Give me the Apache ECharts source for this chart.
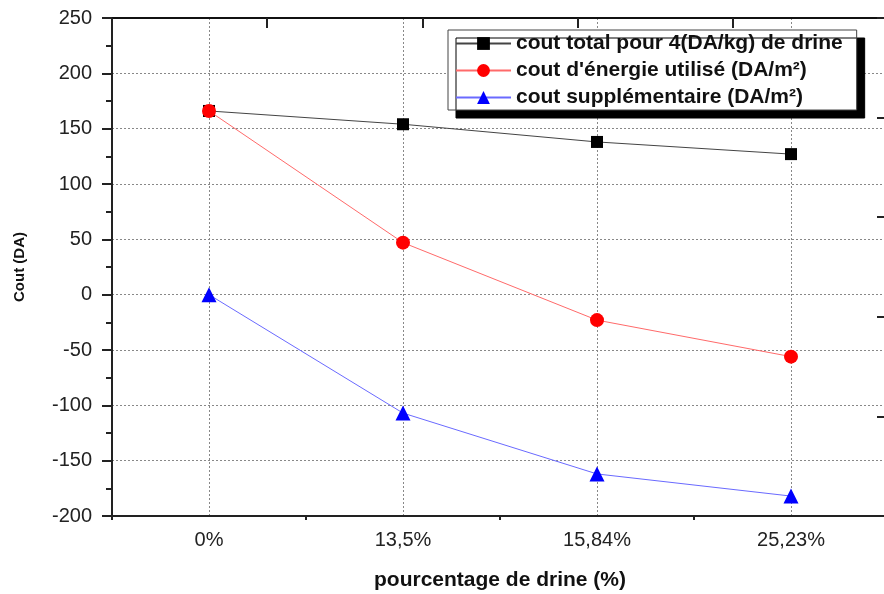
<!DOCTYPE html>
<html>
<head>
<meta charset="utf-8">
<script src="https://cdn.jsdelivr.net/npm/echarts@6/dist/echarts.min.js"></script>
<style>
html,body{margin:0;padding:0;background:#fff;}
#chart{width:884px;height:594px;}
</style>
</head>
<body>
<div id="chart"></div>
<script>
var categories = ['0%', '13,5%', '15,84%', '25,23%'];
var seriesNames = ['cout total pour 4(DA/kg) de drine', "cout d'énergie utilisé (DA/m²)", 'cout supplémentaire (DA/m²)'];
var coutTotal = [166, 154, 138, 127];
var coutEnergie = [166, 47, -23, -56];
var coutSupp = [0, -107, -162, -182];
var yMin = -200, yMax = 250, yStep = 50;

// helper axis: half-band positions (boundaries and centres)
var halfSteps = [''];
categories.forEach(function (c) { halfSteps.push(c); halfSteps.push(''); });
// top frame axis: five equal divisions (no labels)
var topSteps = ['', '', '', '', ''];

var FONT = '"Liberation Sans", Arial, sans-serif';
var chart = echarts.init(document.getElementById('chart'));
chart.setOption({
  animation: false,
  backgroundColor: '#fff',
  grid: {left: 112, top: 18, width: 776, height: 498, outerBoundsMode: 'none', containLabel: false},
  legend: {
    orient: 'vertical', left: 448, top: 30,
    itemWidth: 55, itemHeight: 16, itemGap: 6,
    padding: [3, 14, 2, 7],
    backgroundColor: '#fff', borderColor: '#444', borderWidth: 1,
    shadowColor: '#000', shadowOffsetX: 8, shadowOffsetY: 8, shadowBlur: 0,
    textStyle: {fontFamily: FONT, fontSize: 21, fontWeight: 'bold', color: '#111'},
    data: seriesNames
  },
  xAxis: [
    {
      type: 'category', data: categories, position: 'bottom', boundaryGap: true,
      name: 'pourcentage de drine (%)', nameLocation: 'middle', nameGap: 54,
      nameTextStyle: {fontFamily: FONT, fontSize: 21, fontWeight: 'bold', color: '#111'},
      axisLine: {onZero: false, lineStyle: {color: '#222', width: 2}},
      axisTick: {alignWithLabel: true, length: 10, lineStyle: {color: '#222', width: 2}},
      axisLabel: {fontFamily: FONT, fontSize: 20, color: '#222', margin: 14},
      splitLine: {show: false}
    },
    {
      type: 'category', data: halfSteps, position: 'bottom', boundaryGap: false,
      axisLine: {show: false, onZero: false},
      axisTick: {show: true, length: 4, interval: function (i) { return i % 2 === 0; }, lineStyle: {color: '#222', width: 2}},
      axisLabel: {show: false},
      splitLine: {show: true, interval: function (i) { return i % 2 === 1; }, lineStyle: {color: '#888', type: [2, 2], width: 1}}
    },
    {
      type: 'category', data: topSteps, position: 'top', boundaryGap: true,
      axisLine: {show: true, onZero: false, lineStyle: {color: '#111', width: 2}},
      axisTick: {show: true, inside: true, interval: 0, length: 10, lineStyle: {color: '#222', width: 2}},
      axisLabel: {show: false},
      splitLine: {show: false}
    }
  ],
  yAxis: [
    {
      type: 'value', min: yMin, max: yMax, interval: yStep, position: 'left',
      name: 'Cout (DA)', nameLocation: 'middle', nameGap: 85, nameRotate: 90,
      nameTextStyle: {fontFamily: FONT, fontSize: 15, fontWeight: 'bold', color: '#111'},
      axisLine: {show: true, onZero: false, lineStyle: {color: '#222', width: 2}},
      axisTick: {show: true, length: 10, lineStyle: {color: '#222', width: 2}},
      minorTick: {show: true, splitNumber: 2, length: 6, lineStyle: {color: '#222', width: 2}},
      axisLabel: {fontFamily: FONT, fontSize: 20, color: '#222', margin: 20},
      splitLine: {show: true, lineStyle: {color: '#888', type: [2, 2], width: 1}}
    },
    {
      type: 'value', min: 0, max: 5, interval: 1, position: 'right',
      axisLine: {show: false, onZero: false},
      axisTick: {show: true, inside: true, length: 11, lineStyle: {color: '#222', width: 2}},
      axisLabel: {show: false},
      splitLine: {show: false}
    }
  ],
  series: [
    {
      name: seriesNames[0], type: 'line', data: coutTotal, xAxisIndex: 0, yAxisIndex: 0,
      symbol: 'rect', symbolSize: 12, itemStyle: {color: '#000'},
      lineStyle: {color: '#444', width: 1}, z: 3
    },
    {
      name: seriesNames[1], type: 'line', data: coutEnergie, xAxisIndex: 0, yAxisIndex: 0,
      symbol: 'circle', symbolSize: 14, itemStyle: {color: '#ff0000'},
      lineStyle: {color: '#ff6a6a', width: 1}, z: 4
    },
    {
      name: seriesNames[2], type: 'line', data: coutSupp, xAxisIndex: 0, yAxisIndex: 0,
      symbol: 'triangle', symbolSize: 15, itemStyle: {color: '#0000ff'},
      lineStyle: {color: '#6a6aff', width: 1}, z: 5
    }
  ]
});
</script>
</body>
</html>
